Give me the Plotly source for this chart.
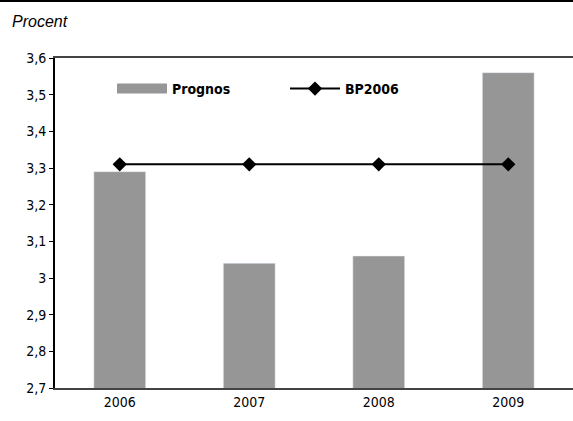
import plotly.graph_objects as go

years = ["2006", "2007", "2008", "2009"]
prognos = [3.29, 3.04, 3.06, 3.56]
bp2006 = [3.31, 3.31, 3.31, 3.31]
y_ticks = [2.7, 2.8, 2.9, 3.0, 3.1, 3.2, 3.3, 3.4, 3.5, 3.6]

FONT = "DejaVu Sans Condensed, Liberation Sans Narrow, sans-serif"
GRAY = "#969696"
W, H = 573, 421
L, R, T, B = 55, 0, 58, 33
PW, PH = W - L - R, H - T - B

fig = go.Figure()
fig.add_trace(go.Bar(x=years, y=prognos, name="Prognos", marker_color=GRAY,
                     width=0.4, showlegend=False))
# legend proxy for the bar series (wide swatch as in the original)
fig.add_trace(go.Scatter(x=[None], y=[None], mode="lines", name="Prognos",
                         line=dict(color=GRAY, width=10)))
fig.add_trace(go.Scatter(x=years, y=bp2006, mode="lines+markers", name="BP2006",
                         line=dict(color="black", width=2),
                         marker=dict(symbol="diamond", size=11, color="black")))

fig.update_layout(
    width=W, height=H,
    margin=dict(l=L, r=R, t=T, b=B),
    paper_bgcolor="white", plot_bgcolor="white",
    separators=",.",
    font=dict(family=FONT, size=14, color="black"),
    legend=dict(orientation="h", x=(112 - L) / PW, y=(388 - 89) / PH,
                xanchor="left", yanchor="middle",
                itemwidth=50, font=dict(family=FONT, size=14, color="black",
                                        weight="bold"),
                bgcolor="rgba(0,0,0,0)", entrywidth=108),
    xaxis=dict(showline=True, linecolor="#444", linewidth=1.5, mirror=True,
               ticks="", showgrid=False, range=[-0.5, 3.5],
               tickfont=dict(family=FONT, size=14)),
    yaxis=dict(range=[2.7, 3.6], tickvals=y_ticks, showline=True,
               linecolor="black", linewidth=2, ticks="outside", ticklen=4,
               tickcolor="black", showgrid=False, zeroline=False,
               tickfont=dict(family=FONT, size=14)),
    annotations=[dict(text="<i>Procent</i>", xref="paper", yref="paper",
                      x=(10 - L) / PW, y=(388 - 22) / PH, xanchor="left", yanchor="middle",
                      showarrow=False, font=dict(family="Liberation Sans, Arial", size=16))],
    shapes=[dict(type="line", xref="paper", yref="paper", x0=-L / PW, x1=1,
                 y0=(388 - 1) / PH, y1=(388 - 1) / PH,
                 line=dict(color="black", width=2))],
)

fig.write_html("out.html", config={"displayModeBar": False},
               post_script="document.body.style.margin='0px';")
